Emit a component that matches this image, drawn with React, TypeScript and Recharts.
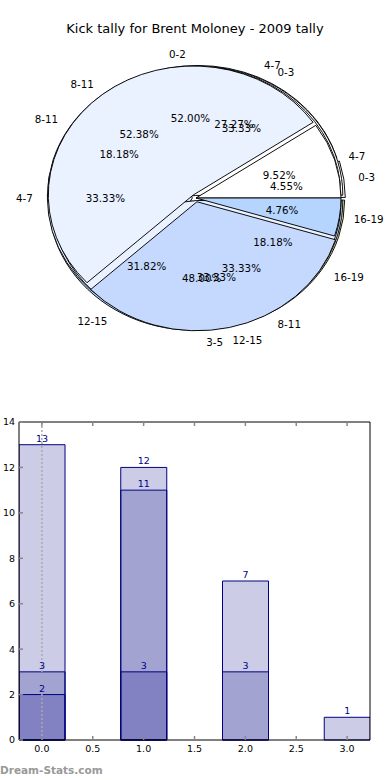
import React from "react";
import {
  PieChart,
  Pie,
  Cell,
  Sector,
  BarChart,
  Bar,
  XAxis,
  YAxis,
  LabelList,
  ReferenceLine,
} from "recharts";

// pie layers, drawn bottom to top (D, C, A, B)
const pieDLabels = ["0-3", "4-7", "8-11", "12-15", "16-19"];
const pieDValues = [1, 6, 4, 7, 4];
const pieDExplode = [0.03, 0.03, 0.03, 0.03, 0.03];

const pieCLabels = ["0-3", "4-7", "8-11"];
const pieCValues = [3, 3, 3];
const pieCExplode = [0.025, 0.025, 0.025];

const pieALabels = ["0-2", "3-5"];
const pieAValues = [13, 12];
const pieAExplode = [0.02, 0.02];

const pieBLabels = ["4-7", "8-11", "12-15", "16-19"];
const pieBValues = [2, 11, 7, 1];
const pieBExplode = [0, 0.03, 0.03, 0];

const pieColors = ["#ffffff", "#eaf1ff", "#c5d9ff", "#b5d5ff", "#f0f0b0"];

// bar chart (overlaid, not stacked)
const barX = [0, 1, 2, 3];
const barLight = [13, 12, 7, 1];
const barMid = [3, 11, 3, null];
const barDark = [2, 3, null, null];
const xTicks = [0, 0.5, 1, 1.5, 2, 2.5, 3];
const yTicks = [0, 2, 4, 6, 8, 10, 12, 14];

const FONT = "DejaVu Sans, sans-serif";
const RAD = Math.PI / 180;
const SQUASH = 129 / 145; // the pie is a little flattened

const makePie = (labels: string[], values: number[], explode: number[]) =>
  labels.map((name, i) => ({ name, value: values[i], explode: explode[i] }));

const pies = [
  { id: "D", data: makePie(pieDLabels, pieDValues, pieDExplode) },
  { id: "C", data: makePie(pieCLabels, pieCValues, pieCExplode) },
  { id: "A", data: makePie(pieALabels, pieAValues, pieAExplode) },
  { id: "B", data: makePie(pieBLabels, pieBValues, pieBExplode) },
];

const barData = barX.map((x, i) => ({
  x,
  light: barLight[i],
  mid: barMid[i],
  dark: barDark[i],
}));

function getExplode(p: any) {
  return p.explode ?? p.payload?.explode ?? 0;
}

function Wedge(props: any) {
  const { cx, cy, outerRadius, startAngle, endAngle, midAngle, fill } = props;
  const e = getExplode(props);
  const dx = e * outerRadius * Math.cos(midAngle * RAD);
  const dy = -e * outerRadius * Math.sin(midAngle * RAD) * SQUASH;
  return (
    <g
      transform={`translate(${cx + dx} ${cy + dy}) scale(1 ${SQUASH}) translate(${-cx} ${-cy})`}
    >
      <Sector
        cx={cx}
        cy={cy}
        innerRadius={0}
        outerRadius={outerRadius}
        startAngle={startAngle}
        endAngle={endAngle}
        fill={fill}
        stroke="#000"
        strokeWidth={1}
      />
    </g>
  );
}

function renderPieLabel(p: any) {
  const { cx, cy, midAngle, outerRadius, percent, name } = p;
  const e = getExplode(p);
  const cos = Math.cos(midAngle * RAD);
  const sin = Math.sin(midAngle * RAD);
  const ox = cx + e * outerRadius * cos;
  const oy = cy - e * outerRadius * sin * SQUASH;
  const lx = ox + 1.1 * outerRadius * cos;
  const ly = oy - 1.1 * outerRadius * sin * SQUASH;
  const px = ox + 0.6 * outerRadius * cos;
  const py = oy - 0.6 * outerRadius * sin * SQUASH;
  return (
    <g>
      <text
        x={lx}
        y={ly}
        textAnchor={lx > cx ? "start" : "end"}
        dominantBaseline="central"
        fontSize={10.3}
        fontFamily={FONT}
        fill="#000"
      >
        {name}
      </text>
      <text
        x={px}
        y={py}
        textAnchor="middle"
        dominantBaseline="central"
        fontSize={10.3}
        fontFamily={FONT}
        fill="#000"
      >
        {(percent * 100).toFixed(2)}%
      </text>
    </g>
  );
}

const tickStyle = { fontSize: 9.5, fill: "#000", fontFamily: FONT };
const tickLineStyle = { stroke: "#888", strokeWidth: 1.5 };
const noTick = () => <g />;

export default function App() {
  return (
    <div
      style={{
        position: "absolute",
        left: 0,
        top: 0,
        width: 390,
        height: 780,
        background: "#fff",
        fontFamily: FONT,
      }}
    >
      <div
        style={{
          position: "absolute",
          top: 21,
          left: 0,
          width: 390,
          textAlign: "center",
          fontSize: 13,
          lineHeight: "16px",
          color: "#000",
        }}
      >
        Kick tally for Brent Moloney - 2009 tally
      </div>

      <div style={{ position: "absolute", left: 0, top: 0 }}>
        <PieChart width={390} height={380} margin={{ top: 0, right: 0, bottom: 0, left: 0 }}>
          {pies.map((pie) => (
            <Pie
              key={"w" + pie.id}
              data={pie.data}
              dataKey="value"
              nameKey="name"
              cx={196}
              cy={198}
              outerRadius={145}
              startAngle={0}
              endAngle={360}
              stroke="#000"
              label={false}
              labelLine={false}
              shape={Wedge}
              isAnimationActive={false}
            >
              {pie.data.map((d, i) => (
                <Cell key={d.name + i} fill={pieColors[i]} />
              ))}
            </Pie>
          ))}
          {pies.map((pie) => (
            <Pie
              key={"l" + pie.id}
              data={pie.data}
              dataKey="value"
              nameKey="name"
              cx={196}
              cy={198}
              outerRadius={145}
              startAngle={0}
              endAngle={360}
              fill="none"
              stroke="none"
              label={renderPieLabel}
              labelLine={false}
              isAnimationActive={false}
            />
          ))}
        </PieChart>
      </div>

      <div style={{ position: "absolute", left: 0, top: 400 }}>
        <BarChart
          width={390}
          height={360}
          data={barData}
          margin={{ top: 21, right: 19, bottom: 0, left: 0 }}
          barSize={46}
          barGap={-46}
        >
          <XAxis
            dataKey="x"
            type="number"
            domain={[-0.225, 3.225]}
            allowDataOverflow
            ticks={xTicks}
            interval={0}
            tickFormatter={(v: number) => v.toFixed(1)}
            height={20}
            tickSize={-4}
            tickMargin={9}
            axisLine={{ stroke: "#000" }}
            tickLine={tickLineStyle}
            tick={tickStyle}
          />
          <XAxis
            xAxisId="top"
            orientation="top"
            dataKey="x"
            type="number"
            domain={[-0.225, 3.225]}
            allowDataOverflow
            ticks={xTicks}
            interval={0}
            height={1}
            tickSize={-4}
            axisLine={{ stroke: "#000" }}
            tickLine={tickLineStyle}
            tick={noTick}
          />
          <YAxis
            type="number"
            domain={[0, 14]}
            ticks={yTicks}
            interval={0}
            width={19}
            tickSize={-4}
            tickMargin={8}
            axisLine={{ stroke: "#000" }}
            tickLine={tickLineStyle}
            tick={tickStyle}
          />
          <YAxis
            yAxisId="right"
            orientation="right"
            type="number"
            domain={[0, 14]}
            ticks={yTicks}
            interval={0}
            width={1}
            tickSize={-4}
            axisLine={{ stroke: "#000" }}
            tickLine={tickLineStyle}
            tick={noTick}
          />
          <Bar dataKey="light" fill="#000080" fillOpacity={0.2} stroke="#000080" strokeWidth={1} isAnimationActive={false}>
            <LabelList dataKey="light" position="top" offset={3} fill="#00008b" fontSize={9.5} fontFamily={FONT} />
          </Bar>
          <Bar dataKey="mid" fill="#000080" fillOpacity={0.2} stroke="#000080" strokeWidth={1} isAnimationActive={false}>
            <LabelList dataKey="mid" position="top" offset={3} fill="#00008b" fontSize={9.5} fontFamily={FONT} />
          </Bar>
          <Bar dataKey="dark" fill="#000080" fillOpacity={0.2} stroke="#000080" strokeWidth={1} isAnimationActive={false}>
            <LabelList dataKey="dark" position="top" offset={3} fill="#00008b" fontSize={9.5} fontFamily={FONT} />
          </Bar>
          <ReferenceLine x={0} stroke="#aaa" strokeWidth={1.5} strokeDasharray="2 2" />
        </BarChart>
      </div>

      <div
        style={{
          position: "absolute",
          left: 0,
          top: 763,
          fontSize: 10.5,
          fontWeight: "bold",
          lineHeight: "14px",
          color: "#999",
        }}
      >
        Dream-Stats.com
      </div>
    </div>
  );
}
